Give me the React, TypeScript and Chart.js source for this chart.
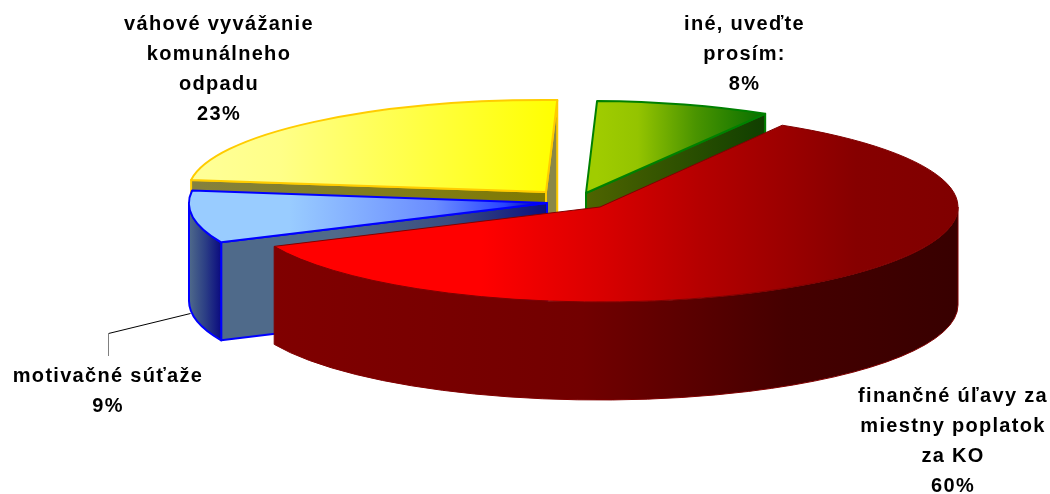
import React, { useEffect, useRef } from "react";
import { Chart, registerables } from "chart.js";

Chart.register(...registerables);

// ---- data -------------------------------------------------------------
const categories = ["iné, uveďte prosím:", "finančné úľavy za miestny poplatok za KO", "motivačné súťaže", "váhové vyvážanie komunálneho odpadu"];
const values = [8.0, 59.7, 8.9, 23.4];
const labelLines = [
  ["iné, uveďte", "prosím:"],
  ["finančné úľavy za", "miestny poplatok", "za KO"],
  ["motivačné súťaže"],
  ["váhové vyvážanie", "komunálneho", "odpadu"],
];

// ---- styling / layout --------------------------------------------------
const W = 1050;
const H = 494;
const PIE = { cx: 572, cy: 200 };
const ROTATION_DEG = 1.8;
const sliceRx = [352, 358, 358, 358];
const sliceRy = [92, 95, 95, 92];
const sliceShift = [[14, -7], [28, 7], [-25, 3], [-26, -8]];
const sliceDepth = [100, 98, 98, 112];
const paintOrder = [3, 0, 2, 1];
const borderColors = ["#008000", "#800000", "#0000ff", "#ffcc00"];
const borderWidths = [2, 1, 2, 2];
const labelAnchor = [[744.5, 24], [953, 396], [108, 376.5], [219, 24]];
const LINE_H = 30;
const FONT = "bold 20px 'Liberation Sans'";
const LETTER = "1.3px";

type Stops = [number, string][];
const topSpan = [[0.03, 0.5], [-0.9, 1], [-1, 0], [-1, 0.03]];
const topStops: Stops[] = [
  [[0, "#a0cc00"], [0.25, "#94c400"], [0.6, "#4a9400"], [1, "#0a7000"]],
  [[0, "#ff0000"], [0.3, "#ff0000"], [0.48, "#d80000"], [0.62, "#b50000"], [0.85, "#860000"], [1, "#800000"]],
  [[0, "#99ccff"], [0.28, "#99ccff"], [0.69, "#6a8cff"], [0.88, "#2a45ff"], [1, "#000090"]],
  [[0, "#ffff99"], [0.25, "#ffff88"], [1, "#ffff00"]],
];
const rimStops: (Stops | null)[] = [
  null,
  [[0, "#800000"], [0.45, "#720000"], [0.75, "#450000"], [1, "#380000"]],
  [[0, "#4f6a8a"], [0.5, "#2c3f85"], [1, "#0a0a80"]],
  null,
];
const startFace: (Stops | null)[] = [
  null,
  null,
  [[0, "#4f6a8a"], [0.35, "#4f6a8a"], [0.7, "#3a4d80"], [1, "#0a1080"]],
  [[0, "#85813e"], [1, "#7f7a00"]],
];
const endFace: (Stops | null)[] = [
  [[0, "#4f6400"], [1, "#0f3f00"]],
  null,
  null,
  [[0, "#8a8748"], [1, "#8a8748"]],
];

function grad(ctx: CanvasRenderingContext2D, x0: number, x1: number, stops: Stops) {
  const g = ctx.createLinearGradient(x0, 0, x1, 0);
  stops.forEach(([o, c]) => g.addColorStop(o, c));
  return g;
}

const pie3d = {
  id: "pie3d",
  beforeDatasetDraw() {
    return false;
  },
  afterDatasetsDraw(chart: any) {
    const ctx: CanvasRenderingContext2D = chart.ctx;
    const arcs = chart.getDatasetMeta(0).data;

    // leader line of the blue slice label
    ctx.save();
    ctx.lineWidth = 1;
    ctx.strokeStyle = "#000000";
    ctx.beginPath();
    ctx.moveTo(190.5, 313.5);
    ctx.lineTo(108.5, 333.5);
    ctx.stroke();
    ctx.strokeStyle = "#808080";
    ctx.beginPath();
    ctx.moveTo(108.5, 333.5);
    ctx.lineTo(108.5, 356);
    ctx.stroke();
    ctx.restore();

    paintOrder.forEach((i) => {
      const arc = arcs[i];
      const { x, y, startAngle: a0, endAngle: a1, outerRadius: R } = arc.getProps(["x", "y", "startAngle", "endAngle", "outerRadius"], true);
      const ax = PIE.cx + sliceShift[i][0];
      const ay = PIE.cy + sliceShift[i][1];
      const rx = sliceRx[i];
      const ry = sliceRy[i];
      const d = sliceDepth[i];
      ctx.lineWidth = borderWidths[i];
      ctx.strokeStyle = borderColors[i];
      ctx.lineJoin = "round";

      const face = (ang: number, stops: Stops) => {
        const px = ax + rx * Math.cos(ang);
        const py = ay + ry * Math.sin(ang);
        ctx.beginPath();
        ctx.moveTo(ax, ay);
        ctx.lineTo(px, py);
        ctx.lineTo(px, py + d);
        ctx.lineTo(ax, ay + d);
        ctx.closePath();
        ctx.fillStyle = grad(ctx, Math.min(ax, px), Math.max(ax, px), stops);
        ctx.fill();
        ctx.stroke();
      };

      if (Math.cos(a1) > 0 && endFace[i]) face(a1, endFace[i] as Stops);
      if (Math.cos(a0) < 0 && startFace[i]) face(a0, startFace[i] as Stops);

      // visible part of the outer wall: the front half of the ellipse
      const norm = (v: number) => {
        let r = v;
        while (r < -Math.PI) r += 2 * Math.PI;
        while (r > Math.PI) r -= 2 * Math.PI;
        return r;
      };
      const n0 = norm(a0);
      const n1 = n0 + (a1 - a0);
      const w0 = Math.max(n0, 0);
      const w1 = Math.min(n1, Math.PI);
      if (w1 > w0 && rimStops[i]) {
        ctx.beginPath();
        ctx.ellipse(ax, ay, rx, ry, 0, w0, w1);
        ctx.ellipse(ax, ay + d, rx, ry, 0, w1, w0, true);
        ctx.closePath();
        const xa = ax + rx * Math.cos(w0);
        const xb = ax + rx * Math.cos(w1);
        ctx.fillStyle = grad(ctx, Math.min(xa, xb), Math.max(xa, xb), rimStops[i] as Stops);
        ctx.fill();
        ctx.stroke();
      }

      // top of the slice: the library's own arc, squashed to an ellipse
      ctx.save();
      ctx.translate(ax, ay);
      ctx.scale(rx / R, ry / R);
      ctx.translate(-x, -y);
      arc.draw(ctx);
      ctx.restore();

      ctx.beginPath();
      ctx.moveTo(ax, ay);
      ctx.ellipse(ax, ay, rx, ry, 0, a0, a1);
      ctx.closePath();
      ctx.stroke();
    });

    // data labels
    ctx.save();
    ctx.font = FONT;
    (ctx as any).letterSpacing = LETTER;
    ctx.fillStyle = "#000000";
    ctx.textAlign = "center";
    ctx.textBaseline = "middle";
    values.forEach((v, i) => {
      const lines = [...labelLines[i], `${Math.round(v)}%`];
      lines.forEach((t, k) => ctx.fillText(t, labelAnchor[i][0], labelAnchor[i][1] + k * LINE_H));
    });
    ctx.restore();
  },
};

export default function App() {
  const ref = useRef<HTMLCanvasElement>(null);
  useEffect(() => {
    const chart = new Chart(ref.current as HTMLCanvasElement, {
      type: "pie",
      data: {
        labels: categories,
        datasets: [
          {
            data: values,
            borderWidth: 0,
            clip: false,
            backgroundColor: (c: any) => {
              const area = c.chart.chartArea;
              if (!area) return "#000000";
              const i = c.dataIndex ?? 0;
              const mid = (area.left + area.right) / 2;
              const R = Math.min(area.right - area.left, area.bottom - area.top) / 2;
              return grad(c.chart.ctx, mid + topSpan[i][0] * R, mid + topSpan[i][1] * R, topStops[i]);
            },
          } as any,
        ],
      },
      options: {
        responsive: false,
        animation: false,
        rotation: ROTATION_DEG,
        events: [],
        layout: { padding: 0 },
        plugins: { legend: { display: false }, tooltip: { enabled: false } },
      },
      plugins: [pie3d as any],
    });
    return () => chart.destroy();
  }, []);
  return (
    <div style={{ position: "fixed", left: 0, top: 0, width: W, height: H, background: "#ffffff", overflow: "hidden" }}>
      <canvas ref={ref} width={W} height={H} style={{ display: "block" }} />
    </div>
  );
}
